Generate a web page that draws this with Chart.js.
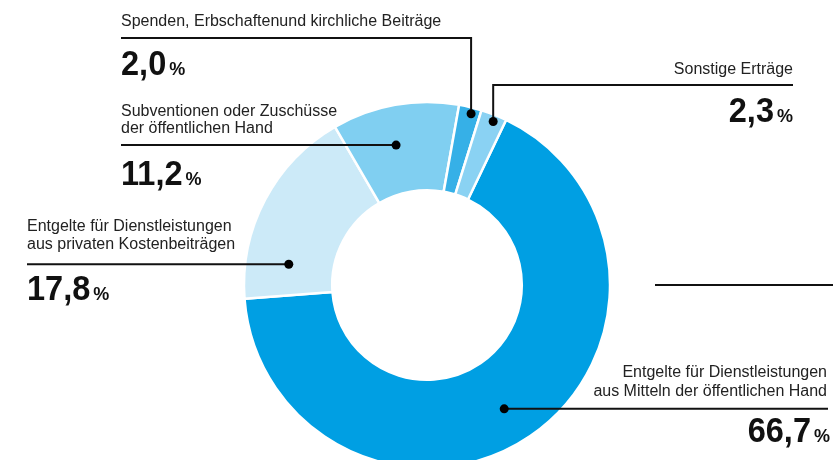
<!DOCTYPE html>
<html>
<head>
<meta charset="utf-8">
<script src="https://cdn.jsdelivr.net/npm/chart.js@4/dist/chart.umd.min.js"></script>
<style>
  html, body { margin: 0; padding: 0; background: #fff; }
  canvas { display: block; }
</style>
</head>
<body>
<canvas id="c" width="833" height="460"></canvas>
<script>
// ---- data ----
const categories = [
  'Entgelte für Dienstleistungen aus Mitteln der öffentlichen Hand',
  'Entgelte für Dienstleistungen aus privaten Kostenbeiträgen',
  'Subventionen oder Zuschüsse der öffentlichen Hand',
  'Spenden, Erbschaftenund kirchliche Beiträge',
  'Sonstige Erträge'
];
const labelLines = [
  ['Entgelte für Dienstleistungen', 'aus Mitteln der öffentlichen Hand'],
  ['Entgelte für Dienstleistungen', 'aus privaten Kostenbeiträgen'],
  ['Subventionen oder Zuschüsse', 'der öffentlichen Hand'],
  ['Spenden, Erbschaftenund kirchliche Beiträge'],
  ['Sonstige Erträge']
];
const values = [66.7, 17.8, 11.2, 2.0, 2.3];
const colors = ['#009fe3', '#cceaf8', '#80cff1', '#36b0e7', '#8ad2f3'];

// ---- label layout (style only) ----
const layout = [
  { frac: 0.51, rFrac: 0.58, type: 'h', align: 'right', textX: 827, lineEnd: 828,
    textY: [377, 395.5], numX: 830, numY: 441.5 },
  { frac: 0.20, rFrac: 0.51, type: 'h', align: 'left', textX: 27, lineEnd: 27,
    textY: [230.5, 249], numX: 27, numY: 300 },
  { frac: 0.44, rFrac: 0.55, type: 'h', align: 'left', textX: 121, lineEnd: 121,
    textY: [115.5, 133], numX: 121, numY: 184.5 },
  { frac: 0.60, rFrac: 0.93, type: 'v', align: 'left', textX: 121, lineEnd: 121, lineY: 38,
    textY: [26], numX: 121, numY: 75 },
  { frac: 0.57, rFrac: 0.925, type: 'v', align: 'right', textX: 793, lineEnd: 793, lineY: 85,
    textY: [74], numX: 793, numY: 121.5 }
];

const FONT = '"Liberation Sans", Arial, Helvetica, sans-serif';
const NUM_SCALE = 0.93;

const labelPlugin = {
  id: 'leaderLabels',
  afterDatasetsDraw(chart) {
    const ctx = chart.ctx;
    const meta = chart.getDatasetMeta(0);
    ctx.save();
    meta.data.forEach((arc, i) => {
      const L = layout[i];
      const p = arc.getProps(['x', 'y', 'startAngle', 'endAngle', 'innerRadius', 'outerRadius'], true);
      const a = p.startAngle + L.frac * (p.endAngle - p.startAngle);
      const r = p.innerRadius + L.rFrac * (p.outerRadius - p.innerRadius);
      const dx = p.x + Math.cos(a) * r;
      const dy = p.y + Math.sin(a) * r;

      // leader line
      ctx.strokeStyle = '#111';
      ctx.lineWidth = 2;
      ctx.beginPath();
      if (L.type === 'h') {
        ctx.moveTo(L.lineEnd, dy);
        ctx.lineTo(dx, dy);
      } else {
        ctx.moveTo(L.lineEnd, L.lineY);
        ctx.lineTo(dx, L.lineY);
        ctx.lineTo(dx, dy);
      }
      ctx.stroke();
      // dot
      ctx.fillStyle = '#000';
      ctx.beginPath();
      ctx.arc(dx, dy, 4.5, 0, Math.PI * 2);
      ctx.fill();

      // category text
      ctx.fillStyle = '#222';
      ctx.font = '16px ' + FONT;
      ctx.textBaseline = 'alphabetic';
      ctx.textAlign = L.align;
      labelLines[i].forEach((t, k) => ctx.fillText(t, L.textX, L.textY[k]));

      // value
      const numStr = values[i].toFixed(1).replace('.', ',');
      const numFont = 'bold 35px ' + FONT;
      const pctFont = 'bold 18px ' + FONT;
      ctx.textAlign = 'left';
      ctx.fillStyle = '#111';
      ctx.font = numFont;
      const wNum = ctx.measureText(numStr).width * NUM_SCALE;
      ctx.font = pctFont;
      const wPct = ctx.measureText('%').width;
      const gap = 3;
      const x0 = L.align === 'left' ? L.numX : L.numX - (wNum + gap + wPct);
      ctx.save();
      ctx.translate(x0, L.numY);
      ctx.scale(NUM_SCALE, 1);
      ctx.font = numFont;
      ctx.fillText(numStr, 0, 0);
      ctx.restore();
      ctx.font = pctFont;
      ctx.fillText('%', x0 + wNum + gap, L.numY);
    });

    // separate rule at right
    ctx.strokeStyle = '#111';
    ctx.lineWidth = 2;
    ctx.beginPath();
    ctx.moveTo(655, 285);
    ctx.lineTo(833, 285);
    ctx.stroke();
    ctx.restore();
  }
};

new Chart(document.getElementById('c'), {
  type: 'doughnut',
  data: {
    labels: categories,
    datasets: [{
      data: values,
      backgroundColor: colors,
      borderColor: '#ffffff',
      borderWidth: 2.5,
      hoverOffset: 0,
      clip: false
    }]
  },
  options: {
    responsive: false,
    animation: false,
    rotation: 25.6,
    radius: 183,
    cutout: 90,
    layout: { padding: { top: 110, left: 21, right: 0, bottom: 0 } },
    plugins: { legend: { display: false }, tooltip: { enabled: false } },
    events: []
  },
  plugins: [labelPlugin]
});
</script>
</body>
</html>
